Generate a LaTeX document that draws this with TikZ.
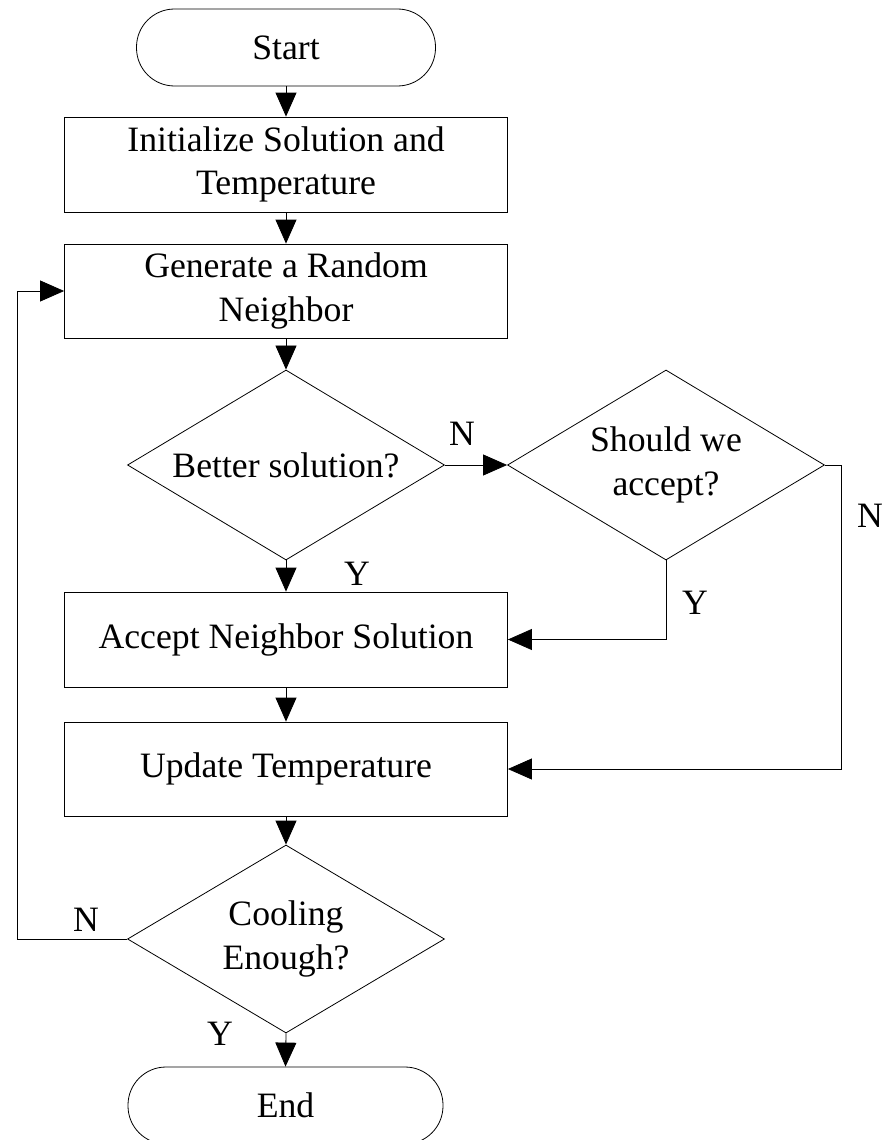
\documentclass[tikz,border=0pt]{standalone}
\usepackage{fontspec}
\setmainfont{Liberation Serif}
\usetikzlibrary{shapes.geometric,arrows.meta}
\begin{document}
\begin{tikzpicture}[x=1pt,y=-1pt,
  every node/.style={font=\fontsize{35.7}{43.5}\selectfont, inner sep=0pt, align=center},
  term/.style={draw, line width=0.8pt, rounded corners=38pt, minimum height=77pt},
  procbox/.style={draw, line width=0.8pt, minimum width=443pt, minimum height=94pt},
  decide/.style={draw, line width=0.8pt, diamond, aspect=1.67, minimum width=317pt, minimum height=190pt},
  conn/.style={line width=0.8pt, -{Triangle[length=24pt,width=21pt]}},
  lbl/.style={}
]
\useasboundingbox (0,0) rectangle (882,1140);
\node[term, minimum width=299pt] (start) at (286,47.5) {Start};
\node[procbox, minimum height=95pt] (init) at (286,164.5) {Initialize Solution and\\Temperature};
\node[procbox] (gen) at (286,291) {Generate a Random\\Neighbor};
\node[decide] (better) at (286,465) {Better solution?};
\node[decide] (should) at (666,465) {Should we\\accept?};
\node[procbox, minimum height=95pt] (accept) at (286,639.5) {Accept Neighbor Solution};
\node[procbox] (update) at (286,769) {Update Temperature};
\node[decide, minimum height=188pt] (cool) at (286,939) {Cooling\\Enough?};
\node[term, minimum width=315pt] (end) at (285.5,1105.5) {End};

\coordinate (rt) at (841,465);
\coordinate (lf) at (17,939);

\draw[conn] (start) -- (init);
\draw[conn] (init) -- (gen);
\draw[conn] (gen) -- (better);
\draw[conn] (better.east) -- (should.west);
\draw[conn] (better.south) -- (accept.north);
\draw[conn] (should.south) |- (accept.east);
\draw[conn] (should.east) -- (rt) |- (update.east);
\draw[conn] (accept) -- (update);
\draw[conn] (update) -- (cool);
\draw[conn] (cool.west) -- (lf) |- (gen.west);
\draw[conn] (cool.south) -- (end.north);

\node[lbl] (nb) at (462,434) {N};
\node[lbl] (ns) at (870,516) {N};
\node[lbl] (yb) at (357,574) {Y};
\node[lbl] (ys) at (695,603) {Y};
\node[lbl] (nc) at (86,920) {N};
\node[lbl] (yc) at (220,1034) {Y};
\end{tikzpicture}
\end{document}
